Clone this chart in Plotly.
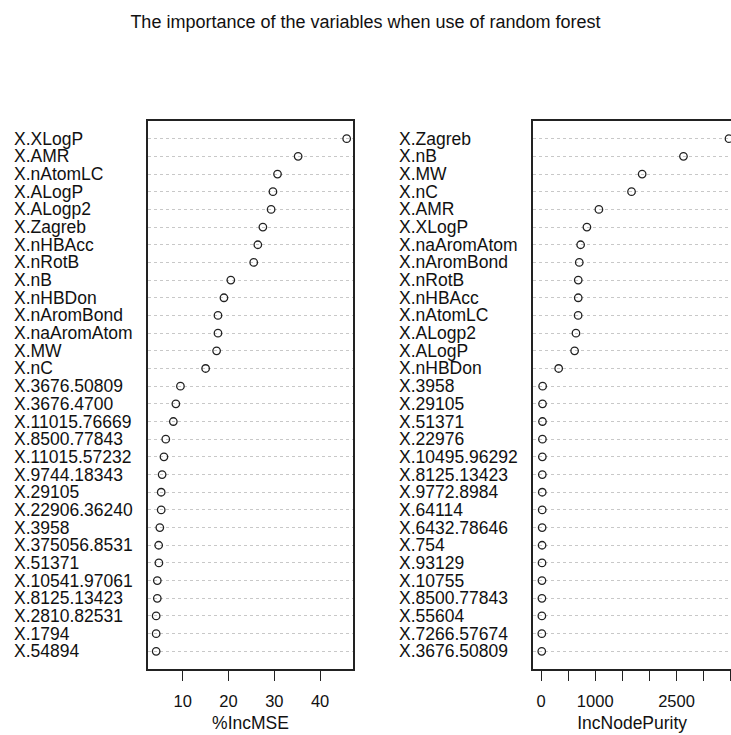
import plotly.graph_objects as go

W, H = 731, 735

# Variable importance: %IncMSE (sorted, top first)
mse_vars = ["X.XLogP", "X.AMR", "X.nAtomLC", "X.ALogP", "X.ALogp2", "X.Zagreb",
            "X.nHBAcc", "X.nRotB", "X.nB", "X.nHBDon", "X.nAromBond", "X.naAromAtom",
            "X.MW", "X.nC", "X.3676.50809", "X.3676.4700", "X.11015.76669",
            "X.8500.77843", "X.11015.57232", "X.9744.18343", "X.29105",
            "X.22906.36240", "X.3958", "X.375056.8531", "X.51371", "X.10541.97061",
            "X.8125.13423", "X.2810.82531", "X.1794", "X.54894"]
mse_vals = [45.8, 35.2, 30.7, 29.7, 29.3, 27.5, 26.4, 25.5, 20.5, 19.0, 17.7, 17.7,
            17.4, 15.0, 9.5, 8.5, 7.95, 6.3, 5.9, 5.5, 5.3, 5.3, 5.0, 4.75, 4.8,
            4.45, 4.45, 4.2, 4.2, 4.2]

# Variable importance: IncNodePurity (sorted, top first)
purity_vars = ["X.Zagreb", "X.nB", "X.MW", "X.nC", "X.AMR", "X.XLogP", "X.naAromAtom",
               "X.nAromBond", "X.nRotB", "X.nHBAcc", "X.nAtomLC", "X.ALogp2", "X.ALogP",
               "X.nHBDon", "X.3958", "X.29105", "X.51371", "X.22976", "X.10495.96292",
               "X.8125.13423", "X.9772.8984", "X.64114", "X.6432.78646", "X.754",
               "X.93129", "X.10755", "X.8500.77843", "X.55604", "X.7266.57674",
               "X.3676.50809"]
purity_vals = [3468, 2628, 1866, 1670, 1068, 847, 731, 706, 687, 687, 685, 645, 620,
               326, 30, 28, 27, 26, 25, 24, 23, 22, 21, 20, 19, 18, 17, 16, 15, 14]

mse_ticks = [10, 20, 30, 40]
purity_ticks = [0, 500, 1000, 1500, 2000, 2500, 3000, 3500]
purity_ticktext = ["0", "", "1000", "", "", "2500", "", ""]

FONT = "Liberation Sans, Arial, sans-serif"
INK = "#222222"
LABEL_SIZE = 17.5
n = len(mse_vars)
rows = list(range(n, 0, -1))  # top item gets the highest position

def px_x(p):
    return p / W

def px_y(p):
    return 1 - p / H

box_top, box_bot = 121, 669

fig = go.Figure()
fig.add_trace(go.Scatter(x=mse_vals, y=rows, mode="markers", xaxis="x", yaxis="y",
                         marker=dict(symbol="circle-open", size=7.5, color=INK,
                                     line=dict(width=1.3, color=INK)),
                         hoverinfo="skip", showlegend=False))
fig.add_trace(go.Scatter(x=purity_vals, y=rows, mode="markers", xaxis="x2", yaxis="y2",
                         marker=dict(symbol="circle-open", size=7.5, color=INK,
                                     line=dict(width=1.3, color=INK)),
                         hoverinfo="skip", showlegend=False))

axis_common = dict(showgrid=False, zeroline=False, ticks="outside", ticklen=10,
                   tickwidth=1.3, tickcolor=INK, linecolor=INK, linewidth=1.5,
                   showline=True, ticklabelstandoff=6,
                   tickfont=dict(family=FONT, size=16.5, color="#111"),
                   title_font=dict(family=FONT, size=17.5, color="#111"),
                   title_standoff=8)
yaxis_common = dict(range=[0, n + 1], tickvals=list(range(1, n + 1)), showticklabels=False,
                    ticks="", showgrid=True, gridcolor="#c8c8c8", griddash="dot",
                    gridwidth=1, zeroline=False, showline=True, linecolor=INK, linewidth=1.5,
                    domain=[px_y(box_bot), px_y(box_top)])

fig.update_layout(
    width=W, height=H,
    margin=dict(l=0, r=0, t=0, b=0),
    paper_bgcolor="white", plot_bgcolor="white",
    font=dict(family=FONT, color="#111"),
    title=dict(text="The importance of the variables when use of random forest",
               x=0.5, xanchor="center", y=1 - 22 / H, yanchor="middle",
               font=dict(family=FONT, size=18, color="#111")),
    xaxis=dict(axis_common, domain=[px_x(148), px_x(353)], range=[2.42, 47.18],
               tickvals=mse_ticks, mirror=True, title_text="%IncMSE", anchor="y"),
    yaxis=dict(yaxis_common, mirror=True, anchor="x"),
    xaxis2=dict(axis_common, domain=[px_x(533.3), 1.0], range=[-142, 3505],
                tickvals=purity_ticks, ticktext=purity_ticktext, mirror=True,
                title_text="IncNodePurity", anchor="y2"),
    yaxis2=dict(yaxis_common, mirror=False, anchor="x2"),
)

# Left-aligned row labels, as in a dot chart
annotations = []
for name, r in zip(mse_vars, rows):
    annotations.append(dict(text=name, x=px_x(12), xref="paper", y=r, yref="y",
                            xanchor="left", yanchor="middle", showarrow=False,
                            font=dict(family=FONT, size=LABEL_SIZE, color="#111")))
for name, r in zip(purity_vars, rows):
    annotations.append(dict(text=name, x=px_x(397), xref="paper", y=r, yref="y2",
                            xanchor="left", yanchor="middle", showarrow=False,
                            font=dict(family=FONT, size=LABEL_SIZE, color="#111")))
fig.update_layout(annotations=annotations)

fig.write_html("out.html")
